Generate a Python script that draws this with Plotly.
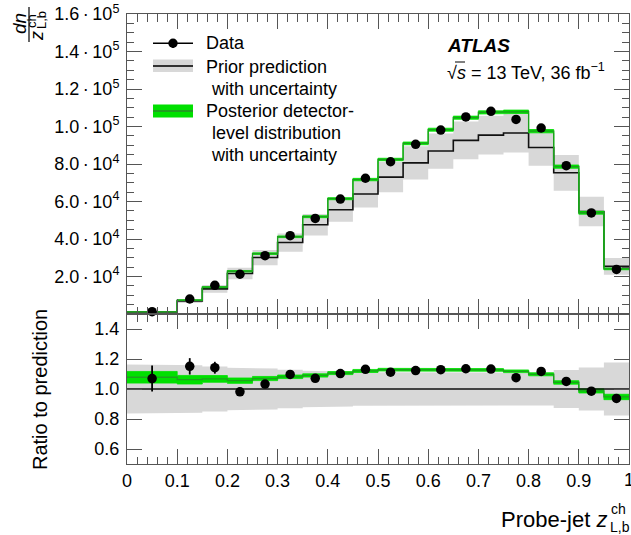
import plotly.graph_objects as go

# Binning in probe-jet z_L,b^ch (first bin is double width)
bin_edges = [0.0, 0.1, 0.15, 0.2, 0.25, 0.3, 0.35, 0.4, 0.45, 0.5, 0.55,
             0.6, 0.65, 0.7, 0.75, 0.8, 0.85, 0.9, 0.95, 1.0]

# Measured distribution with statistical uncertainty
data_vals = [1230, 8000, 15300, 21200, 31100, 41800, 51000, 61300, 72400, 81200,
             90500, 98100, 105100, 108100, 103800, 99200, 79100, 53900, 23800]
data_errs = [100, 380, 530, 250, 300, 330, 350, 370, 400, 420,
             440, 460, 470, 480, 470, 460, 420, 350, 250]

# Prior prediction and its relative uncertainty
prior_vals = [1150, 6950, 13400, 21600, 30100, 38100, 47600, 55600, 64000, 73000,
              80600, 86900, 92600, 95400, 96500, 88800, 75300, 54700, 25400]
prior_rel_unc = [0.163, 0.158, 0.150, 0.141, 0.136, 0.128, 0.121, 0.116, 0.112, 0.110,
                 0.110, 0.108, 0.108, 0.108, 0.108, 0.110, 0.127, 0.144, 0.176]

# Posterior detector-level distribution and its relative uncertainty
posterior_vals = [1240, 7380, 14300, 22800, 32200, 41200, 51900, 61500, 71700, 82400,
                  91000, 98300, 104700, 107500, 107900, 97500, 78600, 54000, 24050]
posterior_rel_unc = [0.036, 0.027, 0.021, 0.017, 0.013, 0.011, 0.010, 0.009, 0.009, 0.008,
                     0.008, 0.008, 0.008, 0.008, 0.008, 0.009, 0.011, 0.014, 0.019]

DOT = "\u2009·\u2009"
y_tick_vals = [20000, 40000, 60000, 80000, 100000, 120000, 140000, 160000]
y_tick_text = ["2.0" + DOT + "10<sup>4</sup>", "4.0" + DOT + "10<sup>4</sup>",
               "6.0" + DOT + "10<sup>4</sup>", "8.0" + DOT + "10<sup>4</sup>",
               "1.0" + DOT + "10<sup>5</sup>", "1.2" + DOT + "10<sup>5</sup>",
               "1.4" + DOT + "10<sup>5</sup>", "1.6" + DOT + "10<sup>5</sup>"]
ratio_tick_vals = [0.6, 0.8, 1.0, 1.2, 1.4]
ratio_tick_text = ["0.6", "0.8", "1.0", "1.2", "1.4"]
x_tick_vals = [0, 0.1, 0.2, 0.3, 0.4, 0.5, 0.6, 0.7, 0.8, 0.9, 1.0]
x_tick_text = ["0", "0.1", "0.2", "0.3", "0.4", "0.5", "0.6", "0.7", "0.8", "0.9", "1"]

GRAY = "#d8d8d8"
GREEN_BAND = "#00e000"
GREEN_LINE = "#1f9f1f"
AXIS = "#555555"
FONT = "Liberation Sans"

W, H = 631, 535
ML, MR, MT, MB = 127, 2, 14, 71
PW, PH = W - ML - MR, H - MT - MB


def px(x):
    return (x - ML) / PW


def py(y):
    return (H - MB - y) / PH


def step_xy(edges, vals):
    xs, ys = [], []
    for i, v in enumerate(vals):
        xs += [edges[i], edges[i + 1]]
        ys += [v, v]
    return xs, ys


def band_xy(edges, lo, hi):
    xu, yu = step_xy(edges, hi)
    xl, yl = step_xy(edges, lo)
    return xu + xl[::-1], yu + yl[::-1]


centers = [(bin_edges[i] + bin_edges[i + 1]) / 2 for i in range(len(data_vals))]
n = len(data_vals)

prior_lo = [prior_vals[i] * (1 - prior_rel_unc[i]) for i in range(n)]
prior_hi = [prior_vals[i] * (1 + prior_rel_unc[i]) for i in range(n)]
post_lo = [posterior_vals[i] * (1 - posterior_rel_unc[i]) for i in range(n)]
post_hi = [posterior_vals[i] * (1 + posterior_rel_unc[i]) for i in range(n)]

r_prior = [1.0] * n
r_prior_lo = [1 - u for u in prior_rel_unc]
r_prior_hi = [1 + u for u in prior_rel_unc]
r_post = [posterior_vals[i] / prior_vals[i] for i in range(n)]
r_post_lo = [post_lo[i] / prior_vals[i] for i in range(n)]
r_post_hi = [post_hi[i] / prior_vals[i] for i in range(n)]
r_data = [data_vals[i] / prior_vals[i] for i in range(n)]
r_data_err = [data_errs[i] / prior_vals[i] for i in range(n)]

fig = go.Figure()


def add_panel(xa, ya, p, plo, phi, q, qlo, qhi, d, derr, black_on_top):
    bx, by = band_xy(bin_edges, plo, phi)
    fig.add_trace(go.Scatter(x=bx, y=by, fill="toself", fillcolor=GRAY, mode="lines",
                             line=dict(width=0), xaxis=xa, yaxis=ya, hoverinfo="skip"))
    lx, ly = step_xy(bin_edges, p)
    black = go.Scatter(x=lx, y=ly, mode="lines", line=dict(color="#111111", width=1.6),
                       xaxis=xa, yaxis=ya)
    if not black_on_top:
        fig.add_trace(black)
    gx, gy = band_xy(bin_edges, qlo, qhi)
    fig.add_trace(go.Scatter(x=gx, y=gy, fill="toself", fillcolor=GREEN_BAND, mode="lines",
                             line=dict(width=0.8, color=GREEN_BAND), xaxis=xa, yaxis=ya,
                             hoverinfo="skip"))
    qx, qy = step_xy(bin_edges, q)
    fig.add_trace(go.Scatter(x=qx, y=qy, mode="lines", line=dict(color=GREEN_LINE, width=1.3),
                             xaxis=xa, yaxis=ya))
    if black_on_top:
        fig.add_trace(black)
    fig.add_trace(go.Scatter(x=centers, y=d, mode="markers",
                             marker=dict(color="black", size=9.5),
                             error_y=dict(type="data", array=derr, color="black",
                                          thickness=1.8, width=0),
                             cliponaxis=False, xaxis=xa, yaxis=ya))


add_panel("x", "y", prior_vals, prior_lo, prior_hi, posterior_vals, post_lo, post_hi,
          data_vals, data_errs, False)
add_panel("x2", "y2", r_prior, r_prior_lo, r_prior_hi, r_post, r_post_lo, r_post_hi,
          r_data, r_data_err, True)

split = (H - MB - 314) / PH
frame = dict(showline=True, linecolor=AXIS, linewidth=1, mirror="allticks",
             ticks="inside", tickcolor=AXIS, showgrid=False, zeroline=False)
tickfont = dict(family=FONT, size=18, color="black")
minor_x = dict(tickmode="linear", tick0=0, dtick=0.02, ticklen=7.5,
               ticks="inside", tickcolor=AXIS)

fig.update_layout(
    width=W, height=H, margin=dict(l=ML, r=MR, t=MT, b=MB),
    paper_bgcolor="white", plot_bgcolor="white", showlegend=False,
    font=dict(family=FONT, color="black"),
    xaxis=dict(domain=[0, 1], range=[0, 1], anchor="y", showticklabels=False,
               tickvals=x_tick_vals, ticklen=15, tickwidth=1, minor=minor_x, **frame),
    yaxis=dict(domain=[split, 1], range=[0, 160000], anchor="x",
               tickmode="array", tickvals=y_tick_vals, ticktext=y_tick_text,
               tickfont=tickfont, ticklen=15, ticklabelstandoff=3,
               minor=dict(tickmode="linear", tick0=0, dtick=5000, ticklen=7,
                          ticks="inside", tickcolor=AXIS), **frame),
    xaxis2=dict(domain=[0, 1], range=[0, 1], anchor="y2", matches="x",
                tickmode="array", tickvals=x_tick_vals, ticktext=x_tick_text,
                tickfont=tickfont, ticklen=15, minor=minor_x, **frame),
    yaxis2=dict(domain=[0, split], range=[0.5, 1.5], anchor="x2",
                tickmode="array", tickvals=ratio_tick_vals, ticktext=ratio_tick_text,
                tickfont=tickfont, ticklen=15, ticklabelstandoff=3, **frame),
)

ann = []
shapes = []


def text(x, y, s, size=18, xanchor="left", angle=0, yanchor="middle"):
    ann.append(dict(x=px(x), y=py(y), xref="paper", yref="paper", text=s, showarrow=False,
                    xanchor=xanchor, yanchor=yanchor, textangle=angle,
                    font=dict(family=FONT, size=size, color="black")))


def line(x0, y0, x1, y1, color="black", width=1.6):
    shapes.append(dict(type="line", xref="paper", yref="paper", x0=px(x0), x1=px(x1),
                       y0=py(y0), y1=py(y1), line=dict(color=color, width=width)))


# Legend
line(153, 43.3, 193, 43.3)
line(173, 39, 173, 48)
shapes.append(dict(type="circle", xref="paper", yref="paper", x0=px(168.3), x1=px(177.7),
                   y0=py(38.6), y1=py(48), fillcolor="black", line=dict(width=0)))
text(204, 43.3, "Data")
shapes.append(dict(type="rect", xref="paper", yref="paper", x0=px(153), x1=px(193),
                   y0=py(59.5), y1=py(72), fillcolor=GRAY, line=dict(width=0)))
line(153, 66, 193, 66, color="#333333", width=1.8)
text(204, 66.5, "Prior prediction")
text(209, 88.5, "with uncertainty")
shapes.append(dict(type="rect", xref="paper", yref="paper", x0=px(153), x1=px(193),
                   y0=py(104.5), y1=py(117.5), fillcolor=GREEN_BAND, line=dict(width=0)))
line(153, 111, 193, 111, color=GREEN_LINE, width=1.8)
text(204, 111, "Posterior detector-")
text(210, 133.3, "level distribution")
text(209, 155.3, "with uncertainty")

# Experiment label
text(445, 45, "<b><i>ATLAS</i></b>", size=19)
text(445, 71.5, "√<i>s</i> = 13 TeV, 36 fb<sup>−1</sup>")
line(455, 62, 465, 62, width=1)

# Right-hand x tick label sits on the page edge
text(629, 480, "1", xanchor="center")

# Axis titles
text(609, 519, "Probe-jet <i>z</i>", size=22, xanchor="right")
text(609, 509, "ch", size=14)
text(608, 527, "L,b", size=14)
text(40, 390, "Ratio to prediction", size=20, xanchor="center", angle=-90)
text(19, 24, "<i>dn</i>", size=19, xanchor="center", angle=-90)
line(29, 7, 29, 42, width=1.2)
text(37, 36, "<i>z</i>", size=18, xanchor="center", angle=-90)
text(32, 21, "ch", size=13, xanchor="center", angle=-90)
text(42, 20, "L,b", size=13, xanchor="center", angle=-90)

fig.update_layout(annotations=ann, shapes=shapes)
fig.write_html("out.html")
